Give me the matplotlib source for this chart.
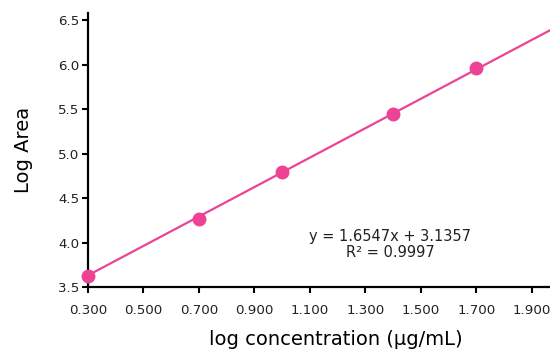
import numpy as np
import matplotlib.pyplot as plt

# standard curve: log concentration vs log peak area
log_conc = [0.301, 0.699, 1.000, 1.398, 1.699]
log_area = [3.63, 4.27, 4.79, 5.45, 5.96]
slope = 1.6547
intercept = 3.1357
r2 = 0.9997

x_ticks = [0.3, 0.5, 0.7, 0.9, 1.1, 1.3, 1.5, 1.7, 1.9]
y_ticks = [3.5, 4.0, 4.5, 5.0, 5.5, 6.0, 6.5]

pink = '#ec4394'

fig = plt.figure(figsize=(5.5, 3.54), dpi=100)
ax = fig.add_axes([0.16, 0.189, 0.84, 0.774])

xmin, xmax = 0.3, 1.965
ymin, ymax = 3.5, 6.58

# regression line across the plotted range
xs = np.array([xmin, xmax])
ax.plot(xs, slope * xs + intercept, color=pink, lw=1.6, zorder=2)
ax.plot(log_conc, log_area, 'o', color=pink, ms=9, zorder=3, clip_on=False)

ax.text(1.388, 3.98, 'y = %.4fx + %.4f\nR\u00b2 = %.4f' % (slope, intercept, r2),
        ha='center', va='center', fontsize=10.5, color='#222222', linespacing=1.05)

ax.set_xlim(xmin, xmax)
ax.set_ylim(ymin, ymax)
ax.set_xticks(x_ticks)
ax.set_xticklabels(['%.3f' % v for v in x_ticks])
ax.set_yticks(y_ticks)
ax.set_yticklabels(['%.1f' % v for v in y_ticks])

for s in ['top', 'right']:
    ax.spines[s].set_visible(False)
for s in ['left', 'bottom']:
    ax.spines[s].set_linewidth(1.6)
ax.tick_params(width=1.5, length=4, labelsize=9.6, colors='black', labelcolor='#222222')
ax.tick_params(axis='y', pad=2)
ax.tick_params(axis='x', pad=8)

ax.set_xlabel('log concentration (\u00b5g/mL)', fontsize=14)
ax.set_ylabel('Log Area', fontsize=14)
ax.xaxis.set_label_coords(0.537, -0.155)
ax.yaxis.set_label_coords(-0.12, 0.5)

fig.savefig('out.png', dpi=100)
